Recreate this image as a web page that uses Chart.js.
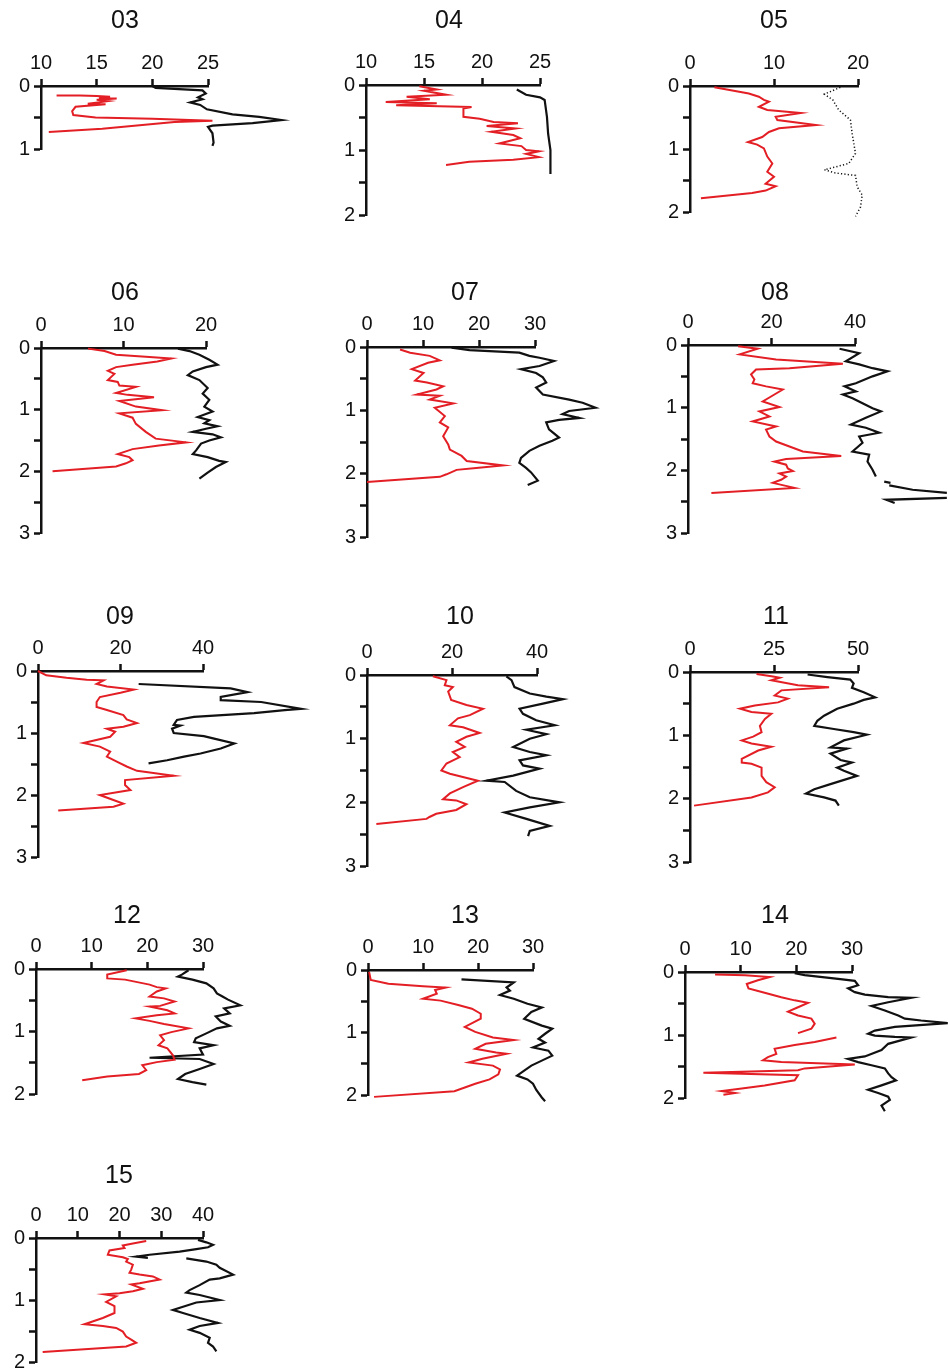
<!DOCTYPE html>
<html>
<head>
<meta charset="utf-8">
<script src="https://cdn.jsdelivr.net/npm/chart.js@4.4.1/dist/chart.umd.min.js"></script>
<style>
  html, body { margin: 0; padding: 0; background: #fff; overflow: hidden; }
  body { width: 948px; height: 1370px; position: relative; }
  canvas { position: absolute; }
</style>
</head>
<body>
<script>
// panel names and axis ticks
const panelNames = ['03', '04', '05', '06', '07', '08', '09', '10', '11', '12', '13', '14', '15'];
const xMins  = [10, 10, 0, 0, 0, 0, 0, 0, 0, 0, 0, 0, 0];
const xMaxs  = [25, 25, 20, 20, 30, 40, 40, 40, 50, 30, 30, 30, 40];
const xSteps = [5, 5, 10, 10, 10, 20, 20, 20, 25, 10, 10, 10, 10];
const depthMax = [1, 2, 2, 3, 3, 3, 3, 3, 3, 2, 2, 2, 2];

// profiles: [value, depth], null = gap in the line
const red03 = [[11.4,0.15],[13.5,0.15],[15.0,0.16],[16.2,0.17],[15.2,0.19],[16.8,0.2],[15.0,0.22],[16.0,0.24],[14.2,0.28],[15.8,0.29],[13.1,0.33],[12.8,0.4],[12.9,0.46],[14.9,0.5],[20.0,0.52],[25.4,0.55],[22.0,0.57],[20.3,0.6],[15.5,0.68],[10.7,0.73]];
const black03 = [[20.0,0.0],[20.3,0.03],[24.5,0.07],[24.8,0.12],[24.1,0.18],[24.5,0.21],[23.4,0.26],[24.3,0.3],[24.9,0.37],[27.2,0.45],[29.6,0.49],[31.6,0.54],[29.0,0.59],[25.4,0.63],[25.0,0.65],[25.4,0.75],[25.5,0.9],[25.4,0.95]];

const red04 = [[14.6,0.02],[16.1,0.07],[15.0,0.09],[16.9,0.15],[13.5,0.18],[15.5,0.22],[11.7,0.26],[16.1,0.28],[12.6,0.31],[19.1,0.34],[18.4,0.36],[18.4,0.49],[19.8,0.52],[21.0,0.57],[23.1,0.59],[20.4,0.63],[22.9,0.67],[20.8,0.72],[22.7,0.77],[23.3,0.82],[21.5,0.9],[23.4,0.94],[23.8,1.0],[24.9,1.02],[23.8,1.06],[24.9,1.11],[22.7,1.15],[18.9,1.18],[16.9,1.23]];
const black04 = [[23.0,0.07],[23.8,0.15],[25.0,0.19],[25.4,0.23],[25.6,0.49],[25.7,0.75],[25.9,1.0],[25.9,1.37]];

const red05 = [[2.9,0.02],[7.0,0.12],[8.2,0.17],[8.8,0.22],[9.4,0.25],[8.2,0.33],[9.2,0.38],[13.2,0.43],[10.2,0.49],[10.4,0.54],[15.0,0.62],[10.6,0.67],[9.4,0.73],[8.6,0.81],[6.9,0.89],[8.0,0.93],[8.8,0.99],[9.2,1.12],[9.8,1.23],[9.2,1.36],[10.0,1.44],[9.0,1.55],[10.2,1.59],[9.0,1.66],[7.4,1.7],[1.3,1.78]];
const black05 = [[17.9,0.02],[16.0,0.13],[17.0,0.22],[17.7,0.38],[19.1,0.54],[19.3,0.75],[19.7,1.07],[18.9,1.23],[16.0,1.33],[17.3,1.38],[19.7,1.42],[19.9,1.6],[20.5,1.73],[20.3,1.92],[19.7,2.07]];

const red06 = [[5.7,0.01],[7.7,0.05],[9.1,0.11],[12.7,0.14],[15.8,0.17],[14.1,0.22],[11.1,0.27],[9.1,0.31],[8.1,0.37],[8.9,0.42],[8.1,0.52],[9.3,0.55],[9.5,0.61],[11.5,0.63],[9.1,0.73],[10.5,0.76],[13.7,0.8],[9.5,0.86],[11.5,0.95],[14.7,1.01],[9.5,1.06],[11.1,1.13],[11.5,1.23],[12.7,1.36],[13.9,1.47],[17.6,1.53],[14.3,1.58],[11.1,1.64],[9.3,1.72],[10.7,1.77],[11.1,1.82],[10.3,1.87],[9.1,1.92],[1.4,2.0]];
const black06 = [[16.6,0.01],[18.0,0.05],[19.2,0.11],[20.4,0.19],[21.4,0.27],[20.0,0.31],[18.4,0.38],[17.8,0.44],[19.2,0.52],[20.2,0.65],[19.6,0.74],[20.4,0.84],[19.8,0.95],[20.8,1.03],[19.0,1.12],[20.4,1.17],[19.8,1.22],[21.4,1.27],[20.0,1.31],[18.4,1.36],[20.8,1.4],[21.8,1.45],[20.4,1.5],[19.4,1.55],[18.8,1.66],[18.4,1.72],[20.2,1.77],[21.6,1.83],[22.4,1.85],[21.2,1.93],[20.2,2.02],[19.2,2.12]];

const red07 = [[5.9,0.04],[7.7,0.09],[11.2,0.14],[13.0,0.21],[10.9,0.25],[8.0,0.35],[10.1,0.41],[8.6,0.53],[10.7,0.56],[13.6,0.62],[12.4,0.67],[8.9,0.75],[13.0,0.77],[11.2,0.83],[15.4,0.89],[12.1,0.96],[13.9,1.09],[13.0,1.19],[14.5,1.27],[13.6,1.41],[14.5,1.54],[14.8,1.62],[16.9,1.72],[17.8,1.8],[24.3,1.87],[19.5,1.91],[16.0,1.94],[14.2,2.01],[13.0,2.05],[0.0,2.13]];
const black07 = [[15.1,0.01],[18.3,0.05],[27.2,0.09],[29.0,0.14],[30.8,0.17],[33.4,0.22],[30.8,0.3],[27.5,0.35],[30.2,0.41],[31.4,0.48],[32.0,0.56],[30.2,0.64],[31.4,0.75],[36.1,0.83],[38.5,0.88],[40.8,0.96],[36.1,1.01],[34.9,1.06],[37.9,1.12],[34.3,1.15],[32.0,1.19],[32.5,1.3],[34.3,1.43],[33.1,1.48],[30.8,1.56],[29.0,1.64],[27.5,1.75],[27.2,1.83],[28.4,1.91],[29.3,1.98],[30.5,2.11],[28.7,2.18]];

const red08 = [[12.0,0.02],[16.7,0.06],[12.4,0.15],[21.1,0.23],[37.1,0.3],[24.3,0.37],[16.3,0.39],[15.1,0.47],[15.9,0.55],[15.5,0.61],[18.7,0.66],[22.7,0.71],[20.7,0.79],[17.9,0.9],[21.9,0.99],[17.1,1.06],[19.5,1.14],[15.5,1.22],[21.1,1.3],[18.7,1.35],[19.5,1.46],[21.1,1.54],[24.3,1.62],[27.5,1.7],[36.7,1.77],[23.5,1.82],[20.7,1.86],[23.5,1.91],[23.9,1.97],[25.1,2.01],[21.9,2.05],[23.5,2.1],[22.3,2.15],[20.3,2.2],[25.5,2.28],[5.6,2.36]];
const black08 = [[36.3,0.06],[41.0,0.13],[37.8,0.26],[41.0,0.31],[44.2,0.37],[47.8,0.42],[44.2,0.5],[40.2,0.61],[37.5,0.66],[40.2,0.74],[37.1,0.79],[39.4,0.85],[41.8,0.93],[44.2,1.01],[46.2,1.06],[42.6,1.16],[39.0,1.27],[42.6,1.32],[45.8,1.4],[41.0,1.46],[41.8,1.56],[39.4,1.7],[43.4,1.75],[43.0,1.86],[44.2,1.99],[45.0,2.1],null,[47.0,2.18],[48.5,2.2],null,[48.2,2.24],[53.8,2.31],[62.0,2.36],null,[62.0,2.44],[47.5,2.47],[49.5,2.52]];

const red09 = [[0.0,0.0],[2.0,0.07],[6.9,0.11],[11.8,0.14],[15.9,0.15],[14.2,0.21],[16.7,0.25],[23.2,0.3],[20.0,0.35],[15.0,0.42],[14.2,0.5],[14.2,0.58],[16.7,0.63],[20.7,0.71],[21.5,0.78],[24.0,0.84],[20.7,0.9],[16.7,0.93],[18.7,0.98],[17.5,1.06],[11.0,1.16],[15.0,1.22],[17.5,1.3],[16.7,1.38],[19.1,1.46],[21.5,1.54],[24.0,1.61],[32.9,1.69],[21.1,1.76],[21.1,1.84],[22.4,1.92],[15.0,2.0],[19.1,2.1],[20.7,2.14],[18.3,2.19],[4.9,2.25]];
const black09 = [[24.4,0.21],[46.7,0.28],[50.8,0.34],[44.3,0.42],[44.3,0.47],[54.1,0.5],[63.8,0.61],[59.8,0.63],[52.4,0.68],[37.8,0.74],[33.7,0.79],[32.9,0.87],[34.5,0.88],[32.5,0.93],[32.9,1.0],[40.2,1.05],[42.7,1.09],[47.6,1.17],[44.3,1.25],[39.4,1.33],[35.4,1.38],[31.3,1.44],[26.8,1.49]];

const red10 = [[15.5,0.02],[18.7,0.08],[18.3,0.16],[20.2,0.19],[19.1,0.26],[19.8,0.39],[23.4,0.47],[27.3,0.53],[24.2,0.63],[21.4,0.68],[19.5,0.79],[22.6,0.82],[26.5,0.91],[23.4,0.97],[21.0,1.05],[23.0,1.13],[20.2,1.21],[21.8,1.29],[18.7,1.39],[17.5,1.5],[19.5,1.55],[26.1,1.66],[22.6,1.76],[19.5,1.86],[17.9,1.95],[21.0,1.97],[23.4,2.03],[21.0,2.12],[16.3,2.18],[14.7,2.23],[14.0,2.26],[2.2,2.34]];
const black10 = [[32.8,0.02],[34.0,0.08],[34.7,0.19],[38.3,0.29],[42.2,0.34],[46.1,0.38],[41.4,0.45],[35.9,0.53],[36.7,0.61],[39.8,0.71],[44.2,0.79],[37.5,0.86],[42.2,0.93],[38.3,1.0],[34.4,1.13],[38.3,1.21],[42.2,1.26],[35.9,1.34],[36.7,1.42],[40.6,1.47],[34.4,1.58],[28.1,1.66],[32.4,1.68],[35.1,1.82],[38.3,1.92],[45.3,2.0],[38.3,2.08],[32.4,2.16],[37.5,2.26],[43.0,2.37],[38.3,2.45],[37.9,2.53]];

const red11 = [[19.8,0.03],[24.7,0.07],[26.7,0.09],[24.2,0.13],[32.1,0.21],[41.4,0.24],[27.2,0.29],[25.2,0.37],[29.1,0.42],[26.2,0.48],[19.3,0.53],[14.9,0.58],[18.3,0.63],[24.2,0.66],[22.3,0.74],[20.8,0.85],[21.3,0.95],[18.8,1.02],[15.4,1.08],[18.3,1.13],[24.2,1.18],[20.3,1.24],[15.4,1.37],[15.4,1.43],[18.3,1.45],[21.3,1.51],[21.3,1.64],[22.7,1.74],[25.2,1.82],[23.2,1.9],[18.3,1.98],[1.2,2.11]];
const black11 = [[35.0,0.04],[40.9,0.08],[47.7,0.12],[48.7,0.18],[48.2,0.25],[51.7,0.32],[55.1,0.4],[51.7,0.44],[48.7,0.5],[43.8,0.58],[39.9,0.69],[37.9,0.77],[37.0,0.85],[42.8,0.9],[48.7,0.95],[52.6,0.99],[45.8,1.08],[41.8,1.19],[46.7,1.21],[41.8,1.29],[44.8,1.39],[48.2,1.43],[43.8,1.51],[45.8,1.56],[49.7,1.64],[41.8,1.77],[37.0,1.85],[34.5,1.92],[39.9,1.98],[43.3,2.03],[44.3,2.11]];

const red12 = [[16.3,0.02],[12.8,0.09],[12.8,0.15],[16.0,0.17],[20.4,0.25],[21.7,0.29],[23.3,0.31],[21.7,0.36],[20.4,0.44],[23.0,0.47],[24.9,0.52],[22.3,0.59],[20.4,0.6],[23.6,0.66],[24.9,0.71],[21.7,0.74],[17.9,0.79],[20.4,0.83],[23.0,0.88],[27.4,0.95],[24.3,1.01],[22.3,1.06],[23.0,1.14],[22.0,1.22],[23.6,1.27],[24.6,1.38],[24.9,1.45],[21.7,1.49],[19.1,1.54],[19.8,1.62],[18.5,1.68],[12.8,1.72],[8.3,1.78]];
const black12 = [[27.4,0.02],[26.2,0.09],[25.5,0.12],[28.1,0.17],[30.6,0.23],[31.9,0.31],[32.5,0.39],[33.5,0.44],[34.5,0.49],[36.7,0.58],[33.8,0.63],[34.8,0.71],[32.3,0.76],[33.2,0.84],[34.8,0.91],[32.5,0.95],[30.6,1.03],[28.7,1.11],[28.4,1.17],[31.9,1.22],[29.4,1.27],[30.0,1.37],[20.4,1.42],[29.4,1.44],[31.9,1.52],[29.4,1.6],[26.8,1.68],[25.5,1.76],[28.1,1.81],[30.6,1.85]];

const red13 = [[0.2,0.03],[0.5,0.16],[3.7,0.22],[10.0,0.26],[14.1,0.28],[12.2,0.32],[12.5,0.38],[10.0,0.46],[13.2,0.49],[16.4,0.56],[18.9,0.62],[20.5,0.7],[20.5,0.78],[17.6,0.91],[19.5,0.99],[22.7,1.08],[26.5,1.12],[21.4,1.18],[19.5,1.26],[23.3,1.32],[25.2,1.34],[20.8,1.42],[18.3,1.48],[22.7,1.53],[24.0,1.59],[23.7,1.67],[22.1,1.75],[19.5,1.82],[17.6,1.88],[15.7,1.94],[1.1,2.03]];
const black13 = [[17.0,0.15],[26.5,0.2],[25.2,0.28],[25.8,0.33],[24.0,0.4],[26.5,0.46],[29.0,0.54],[31.6,0.6],[29.7,0.67],[28.4,0.78],[31.6,0.89],[33.5,0.94],[32.2,1.02],[31.0,1.1],[32.2,1.16],[30.0,1.24],[32.8,1.29],[33.5,1.37],[31.6,1.45],[29.7,1.53],[28.4,1.61],[27.1,1.69],[29.0,1.75],[30.0,1.82],[30.6,1.92],[31.6,2.04],[32.2,2.1]];

const red14 = [[5.4,0.04],[10.8,0.05],[15.2,0.08],[13.1,0.13],[11.1,0.19],[11.4,0.26],[14.3,0.33],[17.3,0.4],[19.7,0.45],[22.1,0.49],[20.3,0.56],[18.5,0.63],[20.3,0.69],[22.7,0.74],[23.3,0.82],[22.7,0.9],[20.3,0.97],null,[27.2,1.04],[23.3,1.11],[19.7,1.16],[16.1,1.22],[16.4,1.3],[14.9,1.35],[14.0,1.4],[17.3,1.43],[30.5,1.47],[21.5,1.53],[20.3,1.56],[3.3,1.6],[20.3,1.64],[19.7,1.72],[14.3,1.8],[10.2,1.85],[6.6,1.89],[9.0,1.92],[6.9,1.95]];
const black14 = [[19.7,0.02],[21.5,0.05],[27.5,0.11],[30.5,0.14],[31.1,0.21],[29.3,0.26],[30.5,0.32],[32.3,0.36],[36.5,0.4],[40.6,0.41],[36.5,0.48],[33.5,0.54],[35.9,0.61],[38.3,0.69],[39.5,0.74],[42.4,0.77],[47.2,0.81],[37.7,0.87],[34.1,0.93],[32.9,0.98],[34.1,1.01],[37.7,1.03],[40.6,1.04],[36.5,1.14],[35.3,1.24],[32.3,1.34],[29.3,1.38],[31.1,1.43],[33.5,1.48],[35.9,1.53],[36.5,1.61],[37.1,1.67],[37.9,1.72],[35.3,1.8],[32.9,1.87],[34.7,1.92],[36.5,1.98],[36.8,2.03],[35.3,2.12],[35.9,2.21]];

const red15 = [[26.4,0.05],[23.2,0.09],[20.8,0.12],[21.2,0.16],[17.6,0.2],[17.2,0.27],[20.8,0.31],[22.0,0.34],[21.6,0.38],[23.2,0.43],[22.8,0.51],[22.4,0.56],[24.8,0.59],[28.0,0.62],[29.6,0.67],[24.8,0.73],[22.8,0.75],[25.6,0.82],[23.2,0.86],[20.0,0.89],[16.4,0.91],[19.2,0.94],[16.8,1.03],[18.8,1.1],[18.8,1.21],[16.0,1.29],[11.6,1.39],[16.0,1.42],[19.2,1.45],[20.8,1.51],[21.6,1.59],[22.8,1.64],[24.0,1.69],[21.6,1.75],[1.6,1.84]];
const black15 = [[38.8,0.03],[40.8,0.07],[42.4,0.11],[41.2,0.15],[38.4,0.18],[34.4,0.22],[27.2,0.27],[24.0,0.3],[26.8,0.32],null,[36.0,0.33],[40.8,0.38],[43.2,0.43],[44.0,0.48],[47.2,0.59],[44.0,0.65],[41.6,0.67],[39.2,0.76],[36.8,0.84],[36.0,0.88],[39.2,0.92],[44.0,1.0],[38.4,1.04],[32.8,1.16],[35.2,1.21],[39.2,1.29],[43.6,1.37],[39.2,1.42],[36.8,1.48],[39.2,1.53],[41.6,1.61],[41.2,1.69],[42.4,1.75],[43.2,1.83]];

const reds = [red03, red04, red05, red06, red07, red08, red09, red10, red11, red12, red13, red14, red15];
const blacks = [black03, black04, black05, black06, black07, black08, black09, black10, black11, black12, black13, black14, black15];

// page placement of each panel: axis origin, axis ends, title centre, rightmost ink
const layout = [
  {ox: 41, oy: 86, right: 208, bottom: 149, tx: 125, ty: 21, ext: 285},
  {ox: 366, oy: 85, right: 540, bottom: 215, tx: 449, ty: 21, ext: 560},
  {ox: 690, oy: 86, right: 858, bottom: 212, tx: 774, ty: 21, ext: 870},
  {ox: 41, oy: 348, right: 206, bottom: 533, tx: 125, ty: 293, ext: 235},
  {ox: 367, oy: 347, right: 535, bottom: 537, tx: 465, ty: 293, ext: 600},
  {ox: 688, oy: 345, right: 855, bottom: 533, tx: 775, ty: 293, ext: 948},
  {ox: 38, oy: 671, right: 203, bottom: 857, tx: 120, ty: 617, ext: 305},
  {ox: 367, oy: 675, right: 537, bottom: 866, tx: 460, ty: 617, ext: 568},
  {ox: 690, oy: 672, right: 858, bottom: 862, tx: 776, ty: 617, ext: 880},
  {ox: 36, oy: 969, right: 203, bottom: 1094, tx: 127, ty: 916, ext: 245},
  {ox: 368, oy: 970, right: 533, bottom: 1095, tx: 465, ty: 916, ext: 558},
  {ox: 685, oy: 972, right: 852, bottom: 1098, tx: 775, ty: 916, ext: 948},
  {ox: 36, oy: 1238, right: 203, bottom: 1362, tx: 119, ty: 1176, ext: 240}
];

Chart.defaults.font.family = '"Liberation Sans", Arial, Helvetica, sans-serif';
Chart.defaults.color = '#111';

const INK = '#111';
const RED = '#e31e24';
const TITLE_SIZE = 25;
const TICK_SIZE = 20;
const PAD_BOTTOM = 22;

function toPts(arr) {
  return arr.map(p => p ? {x: p[0], y: p[1]} : {x: null, y: null});
}

panelNames.forEach((name, i) => {
  const L = layout[i];
  const R = Math.max(L.ext + 8, L.right + 25, 2 * L.tx - L.ox + 30);
  const left = 2 * L.tx - R;
  const top = L.ty - TITLE_SIZE * 0.6;
  const W = R - left;
  const H = L.bottom - top + PAD_BOTTOM;
  const yW = L.ox - left;
  const padW = R - L.right;
  const xH = L.oy - top - TITLE_SIZE * 1.2;

  const canvas = document.createElement('canvas');
  canvas.width = W; canvas.height = H;
  canvas.style.left = left + 'px';
  canvas.style.top = top + 'px';
  canvas.style.width = W + 'px';
  canvas.style.height = H + 'px';
  document.body.appendChild(canvas);

  const axisGrid = {drawOnChartArea: false, drawTicks: true, tickLength: 7, tickWidth: 2.5, tickColor: INK};
  const axisBorder = {display: true, color: INK, width: 2.5};

  new Chart(canvas, {
    type: 'scatter',
    data: {
      datasets: [
        {label: 'red', data: toPts(reds[i]), xAxisID: 'x', yAxisID: 'y',
         showLine: true, borderColor: RED, borderWidth: 2, pointRadius: 0, clip: false, spanGaps: false},
        {label: 'black', data: toPts(blacks[i]), xAxisID: 'x', yAxisID: 'y',
         showLine: true, borderColor: INK, borderWidth: i === 2 ? 1.5 : 2.2, borderDash: i === 2 ? [1.2, 2.2] : [],
         pointRadius: 0, clip: false, spanGaps: false}
      ]
    },
    options: {
      responsive: false,
      animation: false,
      devicePixelRatio: 1,
      events: [],
      layout: {padding: {left: 0, right: 0, top: 0, bottom: PAD_BOTTOM}},
      plugins: {
        legend: {display: false},
        tooltip: {enabled: false},
        title: {display: true, text: name, color: '#111',
                font: {size: TITLE_SIZE, weight: 'normal'}, padding: {top: 0, bottom: 0}}
      },
      scales: {
        x: {
          type: 'linear', position: 'top',
          // range set after data limits so that points past the axis end are still drawn
          afterDataLimits: s => { s.min = xMins[i]; s.max = xMaxs[i]; },
          ticks: {stepSize: xSteps[i], font: {size: TICK_SIZE}, padding: 4, maxRotation: 0, autoSkip: false},
          grid: axisGrid, border: axisBorder,
          afterFit: s => { s.height = xH; }
        },
        y: {
          type: 'linear', position: 'left', reverse: true, min: 0, max: depthMax[i],
          ticks: {stepSize: 0.5, font: {size: TICK_SIZE}, padding: 4, autoSkip: false,
                  callback: v => Number.isInteger(v) ? String(v) : ''},
          grid: axisGrid, border: axisBorder,
          afterFit: s => { s.width = yW; }
        },
        yPad: {
          type: 'linear', axis: 'y', position: 'right', display: true,
          ticks: {display: false}, grid: {display: false}, border: {display: false},
          afterFit: s => { s.width = padW; }
        }
      }
    }
  });
});
</script>
</body>
</html>
